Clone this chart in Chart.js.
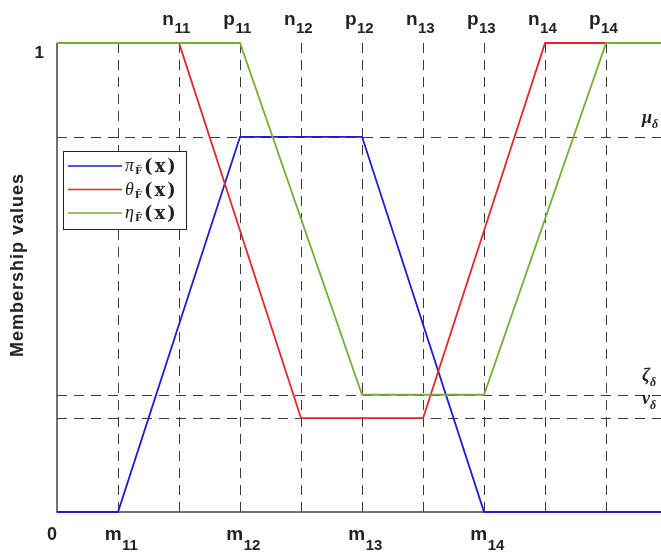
<!DOCTYPE html>
<html>
<head>
<meta charset="utf-8">
<script src="https://cdn.jsdelivr.net/npm/chart.js@4.4.1/dist/chart.umd.min.js"></script>
<style>
  html, body { margin: 0; padding: 0; background: #fff; }
  #wrap { width: 661px; height: 552px; position: relative; }
</style>
</head>
<body>
<div id="wrap"><canvas id="chartMembership" width="661" height="552"></canvas></div>
<script>
// series: membership functions (x, y)
const piX = [0, 1, 3, 5, 7, 10];
const piY = [0, 0, 0.8, 0.8, 0, 0];
const thetaX = [0, 2, 4, 6, 8, 10];
const thetaY = [1, 1, 0.2, 0.2, 1, 1];
const etaX = [0, 3, 5, 7, 9, 10];
const etaY = [1, 1, 0.25, 0.25, 1, 1];

// dashed guide positions
const gridX = [1, 2, 3, 4, 5, 6, 7, 8, 9];
const levelVals = [0.8, 0.25, 0.2];
const levelNames = ['μ', 'ζ', 'ν'];

// tick labels
const topTickVals = [2, 3, 4, 5, 6, 7, 8, 9];
const topTickNames = ['n', 'p', 'n', 'p', 'n', 'p', 'n', 'p'];
const topTickSubs = ['11', '11', '12', '12', '13', '13', '14', '14'];
const bottomTickVals = [1, 3, 5, 7];
const bottomTickSubs = ['11', '12', '13', '14'];

const legendNames = ['π', 'θ', 'η'];
const colores = ['#1c1cd6', '#e4262c', '#79ad3a'];

function puntos(xs, ys) {
    return xs.map((x, i) => ({ x: x, y: ys[i] }));
}

function textoSub(ctx, x, y, main, sub, fMain, fSub, dy) {
    ctx.font = fMain;
    const w1 = ctx.measureText(main).width;
    ctx.font = fSub;
    const w2 = ctx.measureText(sub).width;
    const x0 = x - (w1 + w2) / 2;
    ctx.font = fMain;
    ctx.fillText(main, x0, y);
    ctx.font = fSub;
    ctx.fillText(sub, x0 + w1 + 0.5, y + dy);
}

// lineas punteadas y ejes
const guias = {
    id: 'guias',
    beforeDatasetsDraw(chart) {
        const ctx = chart.ctx;
        const xs = chart.scales.x, ys = chart.scales.y;
        const a = chart.chartArea;
        ctx.save();
        ctx.strokeStyle = '#3a3a3a';
        ctx.lineWidth = 1;
        ctx.setLineDash([10, 7]);
        gridX.forEach(v => {
            const px = Math.round(xs.getPixelForValue(v)) + 0.5;
            ctx.beginPath();
            ctx.moveTo(px, a.top);
            ctx.lineTo(px, a.bottom);
            ctx.stroke();
        });
        levelVals.forEach(v => {
            const py = Math.round(ys.getPixelForValue(v)) + 0.5;
            ctx.beginPath();
            ctx.moveTo(a.left, py);
            ctx.lineTo(a.right, py);
            ctx.stroke();
        });
        ctx.setLineDash([]);
        ctx.strokeStyle = '#444';
        ctx.lineWidth = 1.5;
        ctx.beginPath();
        ctx.moveTo(a.left, a.top);
        ctx.lineTo(a.left, a.bottom);
        ctx.lineTo(a.right, a.bottom);
        ctx.stroke();
        ctx.restore();
    }
};

// etiquetas, leyenda y titulo
const etiquetas = {
    id: 'etiquetas',
    afterDraw(chart) {
        const ctx = chart.ctx;
        const xs = chart.scales.x, ys = chart.scales.y;
        const a = chart.chartArea;
        ctx.save();
        ctx.fillStyle = '#222';
        ctx.textBaseline = 'alphabetic';
        ctx.textAlign = 'left';

        const fMain = 'bold 19px "Liberation Sans", Arial, sans-serif';
        const fSub = 'bold 15px "Liberation Sans", Arial, sans-serif';
        topTickVals.forEach((v, i) => {
            textoSub(ctx, xs.getPixelForValue(v) - 3, a.top - 18, topTickNames[i], topTickSubs[i], fMain, fSub, 8);
        });
        bottomTickVals.forEach((v, i) => {
            textoSub(ctx, xs.getPixelForValue(v) + 3, a.bottom + 28, 'm', bottomTickSubs[i], fMain, fSub, 10);
        });

        ctx.font = 'bold 18px "Liberation Sans", Arial, sans-serif';
        ctx.textAlign = 'center';
        ctx.fillText('0', xs.getPixelForValue(0) - 5, a.bottom + 28);
        ctx.font = 'bold 17px "Liberation Sans", Arial, sans-serif';
        ctx.textAlign = 'right';
        ctx.fillText('1', a.left - 13, ys.getPixelForValue(1) + 15);

        // niveles a la derecha
        ctx.textAlign = 'left';
        levelVals.forEach((v, i) => {
            const py = ys.getPixelForValue(v);
            ctx.font = 'italic bold 18px "Liberation Serif", serif';
            ctx.fillText(levelNames[i], 642, py - 14);
            const w = ctx.measureText(levelNames[i]).width;
            ctx.font = 'italic bold 12px "Liberation Serif", serif';
            ctx.fillText('δ', 642 + w, py - 9);
        });

        // titulo eje y
        ctx.save();
        ctx.translate(18, 265);
        ctx.rotate(-Math.PI / 2);
        ctx.font = 'bold 18px "Liberation Sans", Arial, sans-serif';
        ctx.letterSpacing = '1px';
        ctx.textAlign = 'center';
        ctx.textBaseline = 'middle';
        ctx.fillText('Membership values', 0, 0);
        ctx.restore();

        // leyenda
        const bx = a.left + 6, by = a.top + 108, bw = 123, bh = 78;
        ctx.fillStyle = '#fff';
        ctx.fillRect(bx, by, bw, bh);
        ctx.strokeStyle = '#222';
        ctx.lineWidth = 1;
        ctx.strokeRect(bx + 0.5, by + 0.5, bw, bh);
        legendNames.forEach((n, i) => {
            const ry = by + 15 + i * 23.5;
            ctx.strokeStyle = colores[i];
            ctx.lineWidth = 1.5;
            ctx.beginPath();
            ctx.moveTo(bx + 5, ry);
            ctx.lineTo(bx + 59, ry);
            ctx.stroke();
            ctx.fillStyle = '#222';
            ctx.textAlign = 'left';
            ctx.textBaseline = 'alphabetic';
            let tx = bx + 62;
            ctx.font = 'italic 18px "Liberation Serif", serif';
            ctx.fillText(n, tx, ry + 5);
            tx += ctx.measureText(n).width + 1;
            ctx.font = 'bold 10px "DejaVu Serif", serif';
            ctx.fillText('F\u0303', tx, ry + 8);
            tx += ctx.measureText('F').width + 2;
            ctx.font = 'bold 18px "DejaVu Serif", serif';
            ctx.letterSpacing = '2px';
            ctx.fillText('(x)', tx, ry + 6);
            ctx.letterSpacing = '0px';
        });
        ctx.restore();
    }
};

function crearGrafico() {
    const ctx = document.getElementById('chartMembership').getContext('2d');
    const serie = (xs, ys, color, orden) => ({
        data: puntos(xs, ys),
        borderColor: color,
        borderWidth: 1.8,
        pointRadius: 0,
        showLine: true,
        fill: false,
        clip: false,
        order: orden
    });

    new Chart(ctx, {
        type: 'scatter',
        data: {
            datasets: [
                serie(piX, piY, colores[0], 2),
                serie(thetaX, thetaY, colores[1], 1),
                serie(etaX, etaY, colores[2], 0)
            ]
        },
        options: {
            responsive: false,
            animation: false,
            layout: { padding: { left: 57, top: 43, right: 0, bottom: 40 } },
            plugins: { legend: { display: false }, tooltip: { enabled: false } },
            scales: {
                x: { type: 'linear', min: 0, max: 9.9, display: false },
                y: { type: 'linear', min: 0, max: 1, display: false }
            }
        },
        plugins: [guias, etiquetas]
    });
}

document.addEventListener('DOMContentLoaded', crearGrafico);
</script>
</body>
</html>
